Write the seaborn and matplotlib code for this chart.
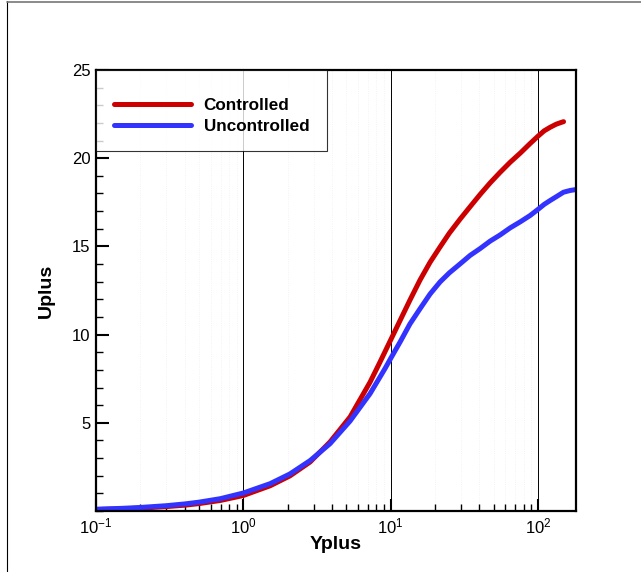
import numpy as np
import pandas as pd
import matplotlib
matplotlib.use("Agg")
import matplotlib.pyplot as plt
import seaborn as sns
from matplotlib.ticker import LogLocator, MultipleLocator, FixedLocator
from matplotlib.lines import Line2D

# Data
ctrl_yplus = [0.1, 0.15, 0.2, 0.3, 0.4, 0.5, 0.7, 1.0, 1.52, 2.07, 2.84, 3.88, 5.3, 7.24, 8.47, 10.0,
              11.58, 13.5, 15.83, 18.5, 21.6, 25.0, 29.6, 34.6, 40.5, 47.3, 55.3, 64.7, 76.0, 88.3,
              100.0, 110.0, 120.7, 133.0, 145.0, 149.0]
ctrl_uplus = [0.08, 0.12, 0.16, 0.25, 0.33, 0.42, 0.6, 0.88, 1.43, 1.99, 2.78, 3.92, 5.33, 7.3, 8.45, 9.7,
              10.8, 11.95, 13.1, 14.1, 14.96, 15.75, 16.55, 17.25, 17.95, 18.6, 19.2, 19.77, 20.3, 20.83,
              21.25, 21.55, 21.75, 21.93, 22.04, 22.07]

unc_yplus = [0.1, 0.15, 0.2, 0.3, 0.4, 0.5, 0.7, 1.0, 1.52, 2.07, 2.84, 3.88, 5.3, 7.24, 9.19, 10.0,
             11.58, 13.5, 15.83, 18.5, 21.6, 25.0, 29.6, 34.6, 40.5, 47.3, 55.3, 64.7, 76.0, 88.3,
             100.0, 110.0, 120.7, 135.0, 148.7, 165.0, 180.0]
unc_uplus = [0.1, 0.15, 0.2, 0.3, 0.4, 0.5, 0.7, 1.02, 1.55, 2.1, 2.86, 3.82, 5.1, 6.65, 8.1, 8.65,
             9.58, 10.6, 11.47, 12.3, 12.98, 13.5, 14.01, 14.49, 14.88, 15.3, 15.65, 16.05, 16.4, 16.75,
             17.1, 17.38, 17.6, 17.85, 18.07, 18.17, 18.22]

labels = ["Controlled", "Uncontrolled"]
colors = {"Controlled": "#cc0000", "Uncontrolled": "#3333ff"}

df = pd.concat([
    pd.DataFrame({"Yplus": ctrl_yplus, "Uplus": ctrl_uplus, "case": labels[0]}),
    pd.DataFrame({"Yplus": unc_yplus, "Uplus": unc_uplus, "case": labels[1]}),
], ignore_index=True)

sns.set_style("white")
plt.rcParams["font.family"] = ["Liberation Sans", "DejaVu Sans"]
plt.rcParams["mathtext.fontset"] = "custom"
plt.rcParams["mathtext.rm"] = "Liberation Sans"
plt.rcParams["mathtext.it"] = "Liberation Sans:italic"
plt.rcParams["text.color"] = "black"
plt.rcParams["axes.labelcolor"] = "black"
plt.rcParams["xtick.color"] = "black"
plt.rcParams["ytick.color"] = "black"

fig = plt.figure(figsize=(6.41, 5.72), dpi=100)
ax = fig.add_axes([96/641, 1-511/572, 480/641, 441/572])

ax.set_xscale("log")
ax.xaxis.set_minor_locator(LogLocator(base=10, subs=np.arange(2, 10), numticks=20))
ax.grid(True, which="minor", axis="x", color="#f0f0f0", linestyle=":", linewidth=0.6)
ax.grid(True, which="major", axis="x", color="black", linewidth=0.7)
ax.grid(False, axis="y")

sns.lineplot(data=df, x="Yplus", y="Uplus", hue="case", palette=colors,
             estimator=None, sort=False, linewidth=3.6, ax=ax, legend=False)

ax.set_xlim(0.1, 181)
ax.set_ylim(0, 25)
ax.yaxis.set_major_locator(FixedLocator([5, 10, 15, 20, 25]))
ax.yaxis.set_minor_locator(MultipleLocator(1))

for s in ax.spines.values():
    s.set_linewidth(1.6)
    s.set_color("black")

ax.tick_params(axis="both", which="major", direction="in", length=9, width=1.5,
               labelsize=12, colors="black", pad=4)
ax.tick_params(axis="both", which="minor", direction="in", length=5, width=1.0)
ax.tick_params(top=False, right=False, which="both")
ax.tick_params(bottom=True, left=True, which="both")

ax.set_xlabel("Yplus", fontsize=14, fontweight="bold", labelpad=0, color="black")
ax.set_ylabel("Uplus", fontsize=14, fontweight="bold", labelpad=12, color="black")

handles = [Line2D([0], [0], color=colors[l], lw=3.6) for l in labels]
leg = ax.legend(handles, labels, loc="upper left", bbox_to_anchor=(0, 1),
                borderaxespad=0, frameon=True, fancybox=False, edgecolor="black",
                prop={"weight": "bold", "size": 12.3}, handlelength=4.5,
                handletextpad=0.75, borderpad=1.05, labelspacing=0.34,
                title=" ", title_fontsize=3)
leg.get_frame().set_linewidth(0.8)
for t in leg.get_texts():
    t.set_color("black")

# figure border lines (left and top)
fig.add_artist(Line2D([7/641, 7/641], [0, 1-1/572], color="black", lw=0.8, transform=fig.transFigure))
fig.add_artist(Line2D([7/641, 1], [1-1.5/572, 1-1.5/572], color="#777777", lw=1.2, transform=fig.transFigure))

fig.savefig("out.png", dpi=100)
